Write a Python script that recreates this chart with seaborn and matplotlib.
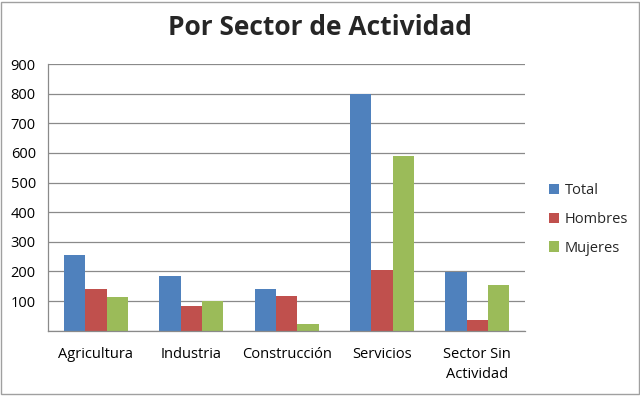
import matplotlib
matplotlib.use("Agg")
import matplotlib.pyplot as plt
import numpy as np
import pandas as pd
import seaborn as sns

# datos
sectores = ['Agricultura', 'Industria', 'Construcción', 'Servicios', 'Sector Sin\nActividad']
total = [257, 183, 139, 800, 197]
hombres = [140, 82, 117, 205, 37]
mujeres = [114, 100, 23, 590, 154]
series = ['Total', 'Hombres', 'Mujeres']
colores = ['#4F81BD', '#C0504D', '#9BBB59']

df = pd.DataFrame({
    'sector': sectores * 3,
    'serie': [s for s in series for _ in sectores],
    'valor': total + hombres + mujeres,
})

sns.set_style('white')
plt.rcParams['font.family'] = ['Open Sans', 'DejaVu Sans']

fig = plt.figure(figsize=(6.4, 3.96), dpi=100)
ax = fig.add_axes([0.0755, 0.165, 0.7448, 0.673])

sns.barplot(data=df, x='sector', y='valor', hue='serie', hue_order=series,
            palette=colores, width=0.67, saturation=1, linewidth=0, ax=ax, legend=True)

# grid estilo excel
ax.set_ylim(0, 900)
ax.set_yticks(range(0, 1000, 100))
ax.set_yticklabels(['', '100', '200', '300', '400', '500', '600', '700', '800', '900'])
ax.yaxis.grid(True, color='#8a8a8a', linewidth=0.9)
ax.set_axisbelow(True)
ax.set_xlim(-0.5, 4.5)
ax.set_xticks(range(5))
ax.set_xticks(np.arange(-0.5, 5, 1), minor=True)
ax.tick_params(axis='x', which='major', length=0, pad=12, labelsize=10.5, colors='black')
ax.tick_params(axis='x', which='minor', length=5, width=0.9, color='#8a8a8a', direction='out')
ax.tick_params(axis='y', which='major', length=6, width=0.9, color='#8a8a8a', direction='out',
               labelsize=10.5, colors='black', pad=3)
for lbl in ax.get_xticklabels():
    lbl.set_linespacing(1.45)
ax.set_xlabel('')
ax.set_ylabel('')
for lado in ['top', 'right']:
    ax.spines[lado].set_visible(False)
for lado in ['left', 'bottom']:
    ax.spines[lado].set_color('#8a8a8a')
    ax.spines[lado].set_linewidth(0.9)

leg = ax.legend(loc='center left', bbox_to_anchor=(1.023, 0.418), frameon=False,
                fontsize=10.5, handlelength=0.7, handleheight=0.7, handletextpad=0.4,
                labelspacing=0.95)

fig.text(0.5, 0.93, 'Por Sector de Actividad', ha='center', va='center',
         fontsize=19, fontweight='bold')

# borde del grafico
fig.patches.append(plt.Rectangle((0.002, 0.004), 0.996, 0.992, transform=fig.transFigure,
                                 fill=False, edgecolor='#a0a0a0', linewidth=1))

fig.savefig('out.png', dpi=100)
